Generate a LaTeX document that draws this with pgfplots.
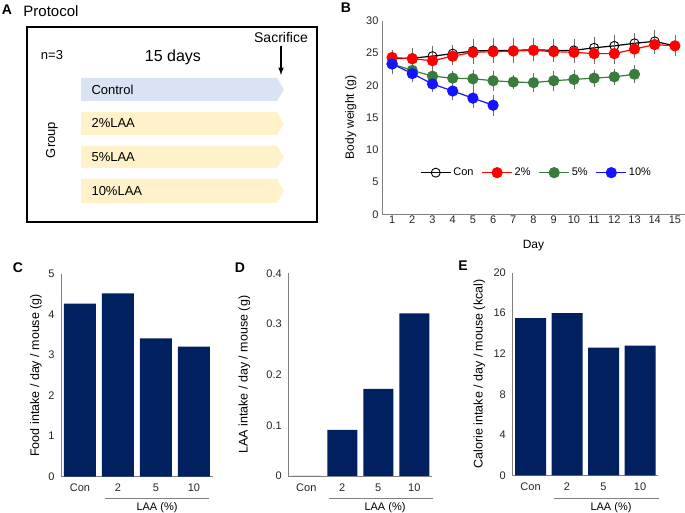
\documentclass[border=0pt]{standalone}
\usepackage{fontspec}
\setmainfont{Liberation Sans}
\usepackage{pgfplots}
\pgfplotsset{compat=1.18}
\usepackage{pgfplotstable}

\definecolor{navybar}{RGB}{0,32,96}
\definecolor{ctrlblue}{RGB}{218,227,243}
\definecolor{laayellow}{RGB}{255,241,202}
\definecolor{grn}{RGB}{56,125,60}
\definecolor{blu}{RGB}{20,20,255}
\definecolor{axgray}{RGB}{128,128,128}
\definecolor{errgray}{RGB}{110,110,110}

% body weight (g): day, mean, sd
\pgfplotstableread{
d m e
1 24.1 0.6
2 24.2 0.9
3 24.5 1.0
4 24.9 0.7
5 25.3 1.3
6 25.4 1.3
7 25.4 1.3
8 25.5 1.2
9 25.4 1.1
10 25.4 1.1
11 25.8 1.0
12 26.1 1.1
13 26.5 1.0
14 26.8 1.1
15 26.1 1.0
}\con
\pgfplotstableread{
d m e
1 24.3 0.5
2 24.1 0.8
3 23.8 0.8
4 24.5 0.8
5 25.1 1.2
6 25.2 1.2
7 25.3 1.0
8 25.4 1.0
9 25.2 1.0
10 25.1 1.0
11 24.9 1.0
12 24.9 1.0
13 25.6 0.8
14 26.3 0.8
15 26.1 1.0
}\two
\pgfplotstableread{
d m e
1 23.3 0.5
2 22.3 0.5
3 21.4 0.5
4 21.1 0.5
5 21.0 0.8
6 20.7 0.9
7 20.5 0.5
8 20.4 0.8
9 20.7 0.9
10 20.9 0.8
11 21.1 0.7
12 21.3 0.6
13 21.7 0.8
}\five
\pgfplotstableread{
d m e
1 23.3 0.9
2 21.8 0.7
3 20.2 0.6
4 19.1 0.8
5 18.0 0.9
6 16.9 1.0
}\ten

\pgfplotsset{
  panel/.style={
    scale only axis,
    axis x line*=bottom, axis y line*=left,
    axis line style={axgray, line width=0.9pt},
    tick style={draw=none},
    /pgf/number format/assume math mode=true,
    tick label style={font=\fontsize{11}{13}\selectfont, text=black!85},
  },
  barpanel/.style 2 args={
    panel,
    width=#1, height=202.7pt,
    xmin=-0.5, xmax=3.5, ymin=0,
    xtick={0,1,2,3}, xticklabels={Con,2,5,10},
    xticklabel style={yshift=-4pt},
    yticklabel style={xshift=-3pt},
    every axis y label/.style={at={(rel axis cs:0,0.5)}, xshift=#2, rotate=90,
      anchor=center, font=\fontsize{12.5}{15}\selectfont},
  },
}

\begin{document}
\begin{tikzpicture}[x=1pt,y=1pt]

% ---- A: protocol sketch
\node[font=\fontsize{14}{16}\selectfont\bfseries] at (7,503) {A};
\node[font=\fontsize{15}{17}\selectfont] at (51,502) {Protocol};
\draw[line width=1.5pt] (27,486) rectangle (317,291);
\node[font=\fontsize{13}{15}\selectfont] at (52,458) {n=3};
\node[font=\fontsize{16}{18}\selectfont] at (173,456) {15 days};
\node[font=\fontsize{14}{16}\selectfont] at (281,475) {Sacrifice};
\draw[line width=1.5pt,-latex] (281,467) -- (281,438);
\node[font=\fontsize{13}{15}\selectfont, rotate=90] at (52,373) {Group};
\fill[ctrlblue] (81,435) -- (277,435) -- (284,423.5) -- (277,412) -- (81,412) -- cycle;
\fill[laayellow] (81,401) -- (277,401) -- (284,389.5) -- (277,378) -- (81,378) -- cycle;
\fill[laayellow] (81,367) -- (277,367) -- (284,356) -- (277,345) -- (81,345) -- cycle;
\fill[laayellow] (81,334) -- (277,334) -- (284,322) -- (277,310) -- (81,310) -- cycle;
\begin{scope}[font=\fontsize{13}{15}\selectfont]
\node[anchor=west] at (88,423.5) {Control};
\node[anchor=west] at (88,389.5) {2\%LAA};
\node[anchor=west] at (88,356) {5\%LAA};
\node[anchor=west] at (88,322) {10\%LAA};
\end{scope}

% ---- B: body weight
\node[font=\fontsize{14}{16}\selectfont\bfseries] at (346,505) {B};
\begin{axis}[panel,
  at={(382pt,298.7pt)}, anchor=south west,
  width=303pt, height=193.6pt,
  xmin=0.5, xmax=15.5, ymin=0, ymax=30,
  xtick={1,...,15}, ytick={0,5,...,30},
  xticklabel style={yshift=2pt},
  xlabel={Day}, ylabel={Body weight (g)},
  label style={font=\fontsize{12}{14}\selectfont},
  xlabel style={yshift=-10pt},
  ylabel style={yshift=3pt},
  legend columns=4,
  legend style={draw=none, fill=none, at={(0.51,0.215)}, anchor=center,
    font=\fontsize{11}{13}\selectfont,
    /tikz/every even column/.append style={column sep=6pt}},
  legend image code/.code={\draw[mark repeat=2,mark phase=2,#1]
    plot coordinates {(0pt,0pt) (15pt,0pt) (30pt,0pt)};},
  error bars/y dir=both, error bars/y explicit,
  error bars/error bar style={errgray, line width=0.8pt},
  error bars/error mark options={errgray, line width=0.8pt, mark size=4pt},
]
\addplot[black, line width=1.2pt, mark=o, mark size=4.5pt, mark options={fill=white, line width=0.9pt}]
  table[x=d, y=m, y error=e] {\con};
\addplot[red, line width=1.2pt, mark=*, mark size=5pt]
  table[x=d, y=m, y error=e] {\two};
\addplot[grn, line width=1.2pt, mark=*, mark size=5pt]
  table[x=d, y=m, y error=e] {\five};
\addplot[blu, line width=1.2pt, mark=*, mark size=5pt]
  table[x=d, y=m, y error=e] {\ten};
\legend{Con, 2\%, 5\%, 10\%}
\end{axis}

% ---- C: food intake
\node[font=\fontsize{14}{16}\selectfont\bfseries] at (18,245) {C};
\begin{axis}[barpanel={152pt}{-25pt},
  at={(61pt,36.3pt)}, anchor=south west,
  ymax=5, ytick={0,1,...,5},
  ylabel={Food intake / day / mouse (g)},
]
\addplot[ybar, bar width=32pt, fill=navybar, draw=none]
  coordinates {(0,4.27) (1,4.52) (2,3.41) (3,3.21)};
\end{axis}
\draw[axgray, line width=0.8pt] (105,15) -- (209,15);
\node[font=\fontsize{11}{13}\selectfont] at (157,5) {LAA (\%)};

% ---- D: LAA intake
\node[font=\fontsize{14}{16}\selectfont\bfseries] at (240,245) {D};
\begin{axis}[barpanel={144pt}{-44pt},
  at={(288.3pt,37pt)}, anchor=south west,
  ymax=0.4, ytick={0,0.1,...,0.4},
  yticklabel style={/pgf/number format/fixed},
  ylabel={LAA intake / day / mouse (g)},
]
\addplot[ybar, bar width=30pt, fill=navybar, draw=none]
  coordinates {(0,0) (1,0.091) (2,0.172) (3,0.321)};
\end{axis}
\draw[axgray, line width=0.8pt] (329,15) -- (433,15);
\node[font=\fontsize{11}{13}\selectfont] at (385,5) {LAA (\%)};

% ---- E: calorie intake
\node[font=\fontsize{14}{16}\selectfont\bfseries] at (463,247) {E};
\begin{axis}[barpanel={146pt}{-33pt},
  at={(512.3pt,37.7pt)}, anchor=south west,
  ymax=20, ytick={0,4,...,20},
  ylabel={Calorie intake / day / mouse (kcal)},
]
\addplot[ybar, bar width=31pt, fill=navybar, draw=none]
  coordinates {(0,15.5) (1,16.0) (2,12.6) (3,12.8)};
\end{axis}
\draw[axgray, line width=0.8pt] (554,15) -- (659,15);
\node[font=\fontsize{11}{13}\selectfont] at (611,5) {LAA (\%)};

\pgfresetboundingbox
\path[use as bounding box] (0,0) rectangle (685,513);
\end{tikzpicture}
\end{document}
